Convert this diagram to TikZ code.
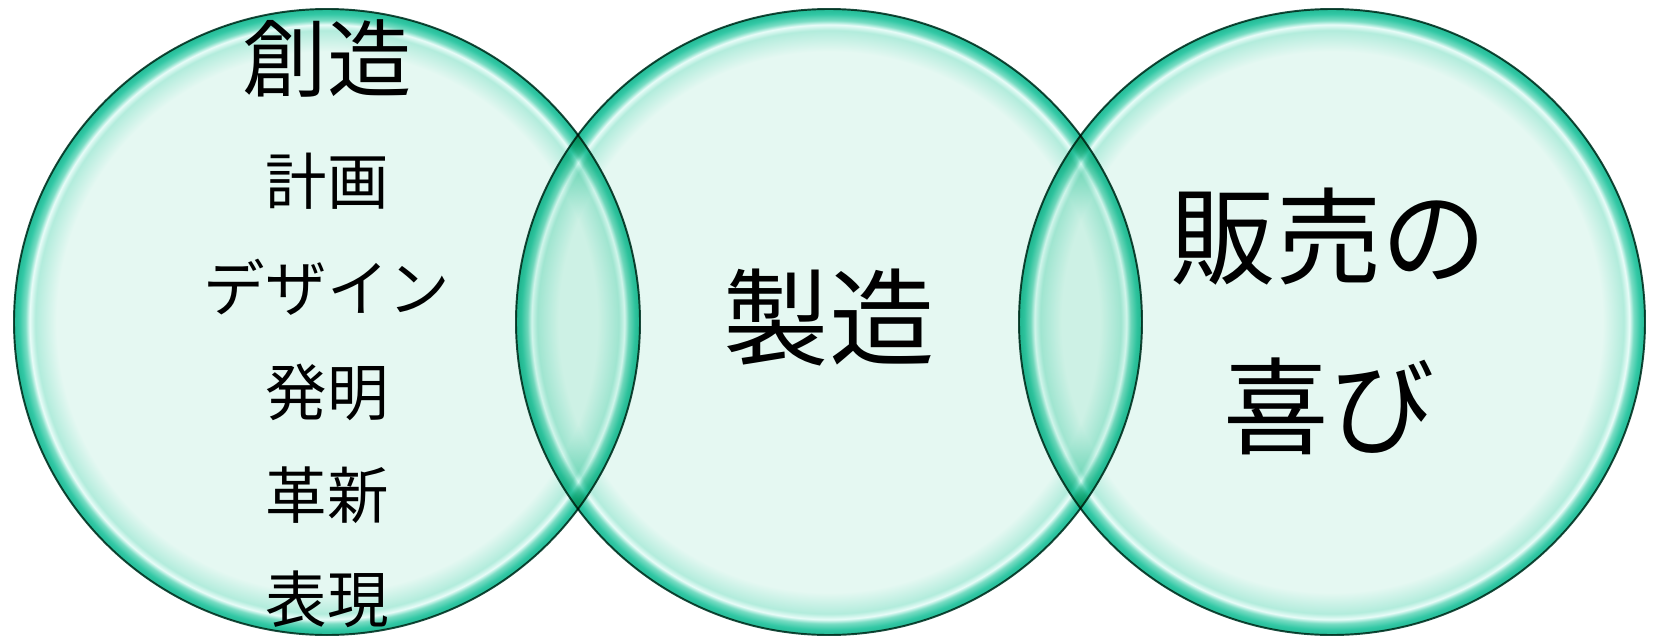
\documentclass[tikz,border=0pt]{standalone}
\usepackage{fontspec}
\setmainfont{Noto Sans CJK JP}

\definecolor{mintin}{RGB}{229,248,242}
\definecolor{mintmid}{RGB}{178,236,220}
\definecolor{minthi}{RGB}{232,252,248}
\definecolor{tealring}{RGB}{120,220,195}
\definecolor{tealband}{RGB}{50,200,165}
\definecolor{tealedge}{RGB}{36,186,150}
\definecolor{ringline}{RGB}{28,78,64}

% glassy ring, edge of the circle = 25bp
\pgfdeclareradialshading{bubbleshade}{\pgfpointorigin}{color(0bp)=(mintin); color(21.6bp)=(mintin);
  color(23.3bp)=(mintmid); color(23.75bp)=(minthi); color(24.1bp)=(tealring);
  color(24.6bp)=(tealband); color(25bp)=(tealedge); color(50bp)=(tealedge)}

\begin{document}
\begin{tikzpicture}[
  bubble/.style={circle, draw=ringline, line width=0.55pt, shade, shading=bubbleshade,
    minimum size=6.26cm, inner sep=0pt},
  bigtext/.style={font=\fontsize{30}{36}\selectfont},
  headtext/.style={font=\fontsize{24}{29}\selectfont},
  itemtext/.style={font=\fontsize{17.5}{21}\selectfont}
]
\useasboundingbox (0,0) rectangle (16.53,6.4);

% Circles
\begin{scope}[blend mode=multiply]
  \node[bubble] (create) at (3.27,3.18) {};
  \node[bubble] (make) at (8.29,3.18) {};
  \node[bubble] (sell) at (13.32,3.18) {};
\end{scope}

% Left circle
\node[headtext] (createtitle) at (3.27,5.82) {創造};
\node[itemtext] (plan) at (3.27,4.59) {計画};
\node[itemtext] (design) at (3.27,3.53) {デザイン};
\node[itemtext] (invent) at (3.27,2.48) {発明};
\node[itemtext] (innovate) at (3.27,1.45) {革新};
\node[itemtext] (express) at (3.27,0.41) {表現};

% Middle circle
\node[bigtext] (maketitle) at (8.29,3.22) {製造};

% Right circle
\node[bigtext] (selltop) at (13.29,4.03) {販売の};
\node[bigtext] (sellbottom) at (13.29,2.34) {喜び};

\end{tikzpicture}
\end{document}
